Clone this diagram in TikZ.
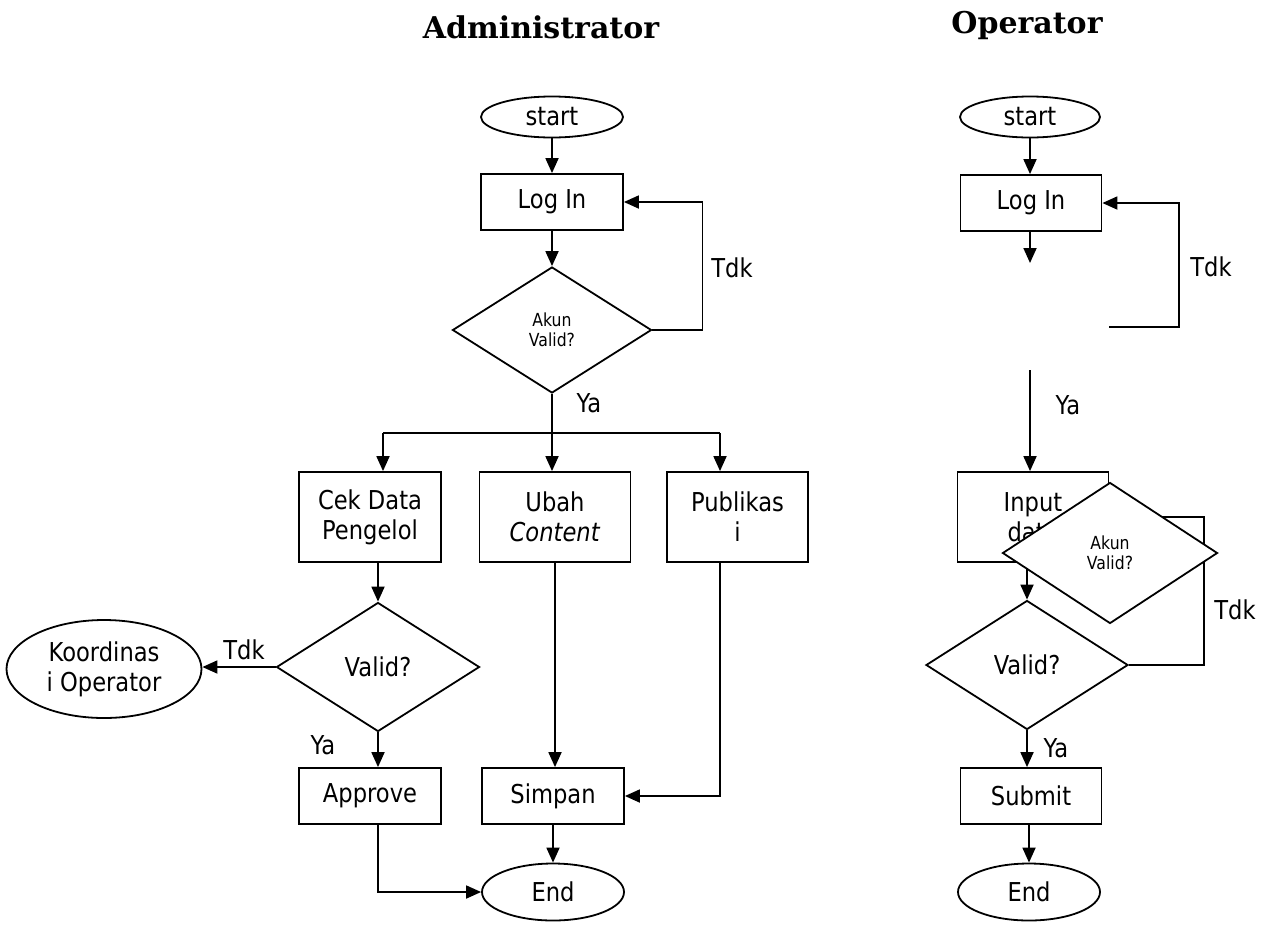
\documentclass[tikz,border=0pt]{standalone}
\usepackage{fontspec}
\setmainfont{DejaVu Sans}[FakeStretch=0.87]
\newfontfamily\titlefont{DejaVu Serif}
\usetikzlibrary{shapes.geometric,arrows.meta}
\begin{document}
\begin{tikzpicture}[x=1pt,y=-1pt,
 line width=1.8pt,
 every node/.style={font=\fontsize{26}{30}\selectfont},
 proc/.style={draw, rectangle, inner sep=0pt, align=center},
 term/.style={draw, ellipse, inner sep=0pt, align=center},
 dec/.style={draw, diamond, inner sep=0pt, aspect=1.6, align=center, fill=white},
 arr/.style={-{Triangle[length=15pt,width=13pt]}},
 small/.style={font=\fontsize{18}{20}\selectfont},
 lbl/.style={inner sep=0pt},
 ttl/.style={inner sep=0pt, font=\titlefont\bfseries\fontsize{30}{34}\selectfont}]
\useasboundingbox (0,0) rectangle (1265,924);

% ---------------- Administrator ----------------
\node[ttl] (t1) at (541,27) {Administrator};
\node[term, minimum width=142pt, minimum height=41pt] (s1) at (552,117) {start};
\node[proc, minimum width=142pt, minimum height=56pt] (l1) at (552,202) {Log In};
\node[dec, small, minimum width=199pt, minimum height=126pt] (d1) at (552,330) {Akun\\Valid?};
\coordinate (b1) at (552,433);
\coordinate (px) at (720,433);
\node[proc, minimum width=142pt, minimum height=90pt] (c1) at (370,517) {Cek Data\\Pengelol};
\node[proc, minimum width=151pt, minimum height=90pt] (u1) at (555,517) {Ubah\\\textit{Content}};
\node[proc, minimum width=141pt, minimum height=90pt] (p1) at (737.5,517) {Publikas\\i};
\node[dec, minimum width=203pt, minimum height=129pt] (v1) at (378,667) {Valid?};
\node[term, minimum width=195pt, minimum height=98pt] (k1) at (104,669) {Koordinas\\i Operator};
\node[proc, minimum width=142pt, minimum height=56pt] (a1) at (370,796) {Approve};
\node[proc, minimum width=142pt, minimum height=56pt] (sm) at (553,796) {Simpan};
\node[term, minimum width=142pt, minimum height=57pt] (e1) at (553,892) {End};

\draw[arr] (s1.south) -- (l1.north);
\draw[arr] (l1.south) -- (d1.north);
\draw[arr] (d1.east) -- ++(50,0) |- (l1.east);
\node[lbl] (tdk1) at (732,268) {Tdk};
\draw (d1.south) -- (b1);
\node[lbl] (ya1) at (589,403) {Ya};
\draw ([xshift=13pt]c1.north |- b1) -- (px);
\draw[arr] ([xshift=13pt]c1.north |- b1) -- ([xshift=13pt]c1.north);
\draw[arr] (b1) -- (b1 |- u1.north);
\draw[arr] (px) -- (px |- p1.north);
\draw[arr] (c1.south -| v1.north) -- (v1.north);
\draw[arr] (v1.west) -- (v1.west -| k1.east);
\node[lbl] (tdk2) at (244,650) {Tdk};
\draw[arr] (v1.south) -- (v1.south |- a1.north);
\node[lbl] (ya2) at (323,745) {Ya};
\draw[arr] (a1.south -| v1.south) |- (e1.west);
\draw[arr] (u1.south) -- (u1.south |- sm.north);
\draw[arr] (px |- p1.south) |- (sm.east);
\draw[arr] (sm.south) -- (e1.north);

% ---------------- Operator ----------------
\node[ttl] (t2) at (1027,25) {Operator};
\node[term, minimum width=140pt, minimum height=41pt] (s2) at (1030,117) {start};
\node[proc, minimum width=141pt, minimum height=56pt] (l2) at (1031,203) {Log In};
\coordinate (g2) at (1030,263);
\coordinate (r2) at (1109,327);
\coordinate (y2) at (1030,370);
\node[proc, minimum width=151pt, minimum height=90pt] (i2) at (1033,517) {Input\\data};
\node[dec, minimum width=202pt, minimum height=129pt] (v2) at (1027,665) {Valid?};
\node[proc, minimum width=141pt, minimum height=56pt] (sb) at (1031,796) {Submit};
\node[term, minimum width=142pt, minimum height=57pt] (e2) at (1029,892) {End};

\draw[arr] (s2.south -| g2) -- (l2.north -| g2);
\draw[arr] (l2.south -| g2) -- (g2);
\draw[arr] (r2) -- ++(70,0) |- (l2.east);
\node[lbl] (tdk3) at (1211,267) {Tdk};
\draw[arr] (y2) -- (y2 |- i2.north);
\node[lbl] (ya3) at (1068,405) {Ya};
\draw (v2.east) -- ++(75,0) |- (i2.east);
\node[lbl] (tdk4) at (1235,610) {Tdk};
\draw[arr] (i2.south -| v2.north) -- (v2.north);
\draw[arr] (v2.south) -- (v2.south |- sb.north);
\node[lbl] (ya4) at (1056,748) {Ya};
\draw[arr] (sb.south -| e2.north) -- (e2.north);
\node[dec, small, minimum width=215pt, minimum height=141pt] (a2) at (1110,553) {Akun\\Valid?};
\end{tikzpicture}
\end{document}
